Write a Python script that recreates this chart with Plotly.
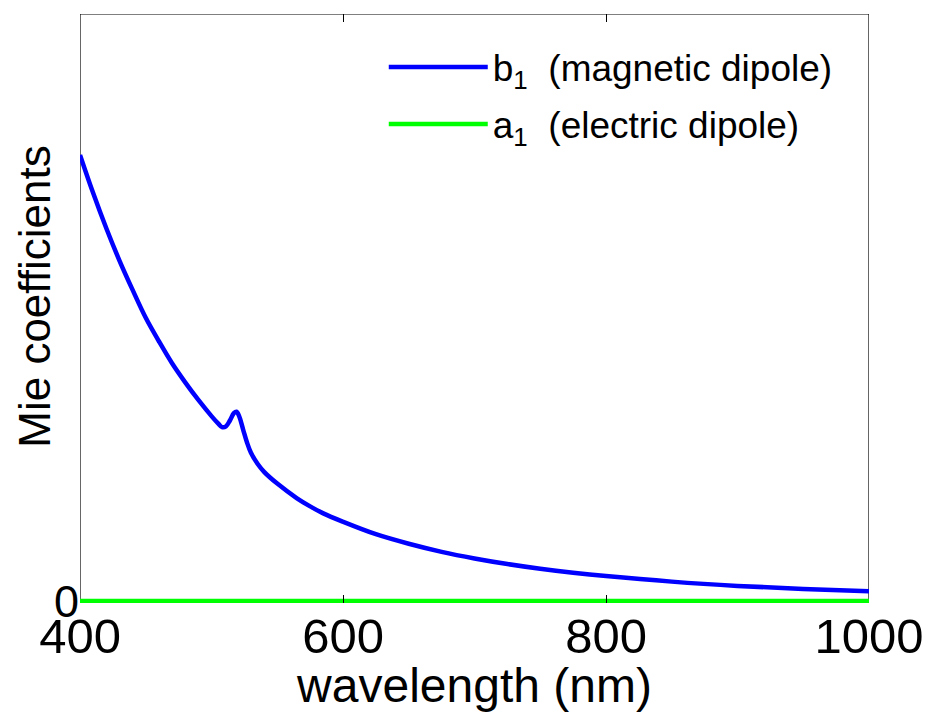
import plotly.graph_objects as go

# wavelength (nm) sample positions
wavelength = [400, 410, 420, 430, 440, 450, 460, 470, 480, 490, 500, 505, 508,
              511, 514, 517, 519, 521, 524, 527, 530, 535, 540, 550, 565, 575,
              585, 600, 625, 650, 675, 700, 725, 750, 775, 800, 850, 900, 950, 1000]

# b1 (magnetic dipole) values
b1_values = [3.04, 2.78, 2.54, 2.32, 2.12, 1.93, 1.77, 1.62, 1.49, 1.37, 1.26, 1.21, 1.185,
             1.19, 1.23, 1.28, 1.29, 1.26, 1.17, 1.08, 1.01, 0.935, 0.88, 0.80, 0.70, 0.645,
             0.597, 0.54, 0.455, 0.39, 0.335, 0.29, 0.252, 0.22, 0.193, 0.17, 0.132, 0.103, 0.082, 0.066]

# a1 (electric dipole) values
a1_values = [0.0] * len(wavelength)

x_ticks = [400, 600, 800, 1000]
x_tick_labels = ["400", "600", "800", "1000"]
y_label_ticks = [0]
y_label_text = ["0"]
y_minor_ticks = [1, 2, 3]

FONT = "Liberation Sans, Arial, Helvetica, sans-serif"

# plot bottom is 2px below zero so the zero line is not clipped
H = 712 - 14 - 109
r = 8.0 / (H - 2)

fig = go.Figure()
fig.add_trace(go.Scatter(x=wavelength, y=b1_values, mode="lines", line_shape="spline",
                         line=dict(color="#0000ff", width=4.5), legendgroup="b1",
                         name="b<sub>1</sub>&nbsp; (magnetic dipole)"))
fig.add_trace(go.Scatter(x=wavelength, y=a1_values, mode="lines", legendgroup="a1",
                         line=dict(color="#00ff00", width=4.5),
                         name="a<sub>1</sub>&nbsp; (electric dipole)"))

# axes box
fig.add_shape(type="rect", xref="x", yref="y", x0=400, x1=1000, y0=0, y1=4,
              line=dict(color="black", width=1.2), layer="below")

fig.add_annotation(text="Mie coefficients", textangle=-90, xref="paper", yref="paper",
                   x=0, y=0.52, xanchor="center", yanchor="middle", xshift=-45,
                   showarrow=False, font=dict(size=44, family=FONT, color="black"))

fig.update_layout(
    width=928, height=712,
    margin=dict(l=80, r=59, t=14, b=109),
    paper_bgcolor="white", plot_bgcolor="white",
    font=dict(family=FONT, color="black"),
    showlegend=True,
    legend=dict(x=0.385, y=0.962, xanchor="left", yanchor="top",
                bgcolor="rgba(0,0,0,0)", font=dict(size=37, family=FONT),
                itemwidth=99, tracegroupgap=6, traceorder="grouped"),
    xaxis=dict(range=[400, 1000], tickvals=x_ticks, ticktext=x_tick_labels,
               ticks="inside", ticklen=8, tickcolor="black", mirror="ticks",
               showline=False, showgrid=False, zeroline=False, automargin=False,
               tickfont=dict(size=49, family=FONT),
               title=dict(text="wavelength (nm)", font=dict(size=48, family=FONT), standoff=0)),
    yaxis=dict(range=[-r, 4], tickvals=y_label_ticks, ticktext=y_label_text,
               ticks="", showline=False, showgrid=False, zeroline=False, automargin=False,
               tickfont=dict(size=45, family=FONT)),
    yaxis2=dict(range=[-r, 4], overlaying="y", anchor="x", side="left",
                tickvals=y_minor_ticks, showticklabels=False,
                ticks="inside", ticklen=8, tickcolor="black", mirror="ticks",
                showline=False, showgrid=False, zeroline=False, automargin=False),
)

fig.write_html("out.html", config={"displayModeBar": False},
               post_script="document.body.style.margin='0';")
